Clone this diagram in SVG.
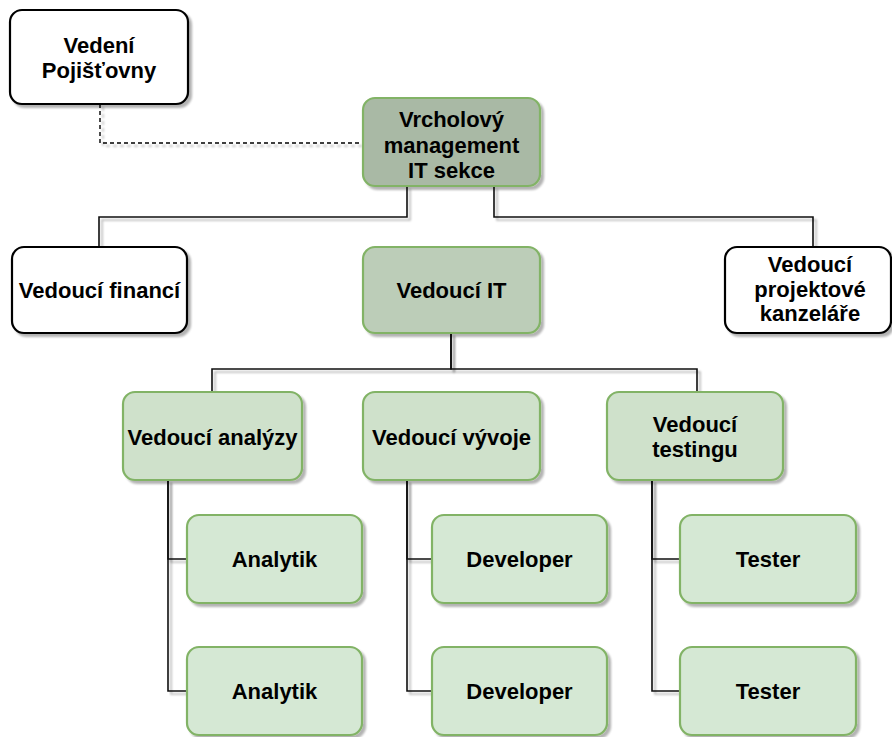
<svg xmlns="http://www.w3.org/2000/svg" width="892" height="737" viewBox="0 0 892 737">
  <defs>
    <filter id="shadow" x="-10%" y="-10%" width="130%" height="130%">
      <feGaussianBlur in="SourceAlpha" stdDeviation="1"/>
      <feOffset dx="3" dy="3" result="off"/>
      <feComponentTransfer><feFuncA type="linear" slope="0.3"/></feComponentTransfer>
      <feMerge><feMergeNode/><feMergeNode in="SourceGraphic"/></feMerge>
    </filter>
    <style>
      .box { stroke-width: 2.2; filter: url(#shadow); }
      .white { fill: #ffffff; stroke: #000000; }
      .top { fill: #a9b9a5; stroke: #82b366; }
      .lvl2 { fill: #bccdb8; stroke: #82b366; }
      .lvl3 { fill: #cfe1cb; stroke: #82b366; }
      .leaf { fill: #d5e8d4; stroke: #82b366; }
      text { font-family: "Liberation Sans", Arial, Helvetica, sans-serif; font-weight: bold; font-size: 22px; fill: #000000; text-anchor: middle; }
      .edge { fill: none; stroke: #111111; stroke-width: 1.6; filter: url(#shadow); }
      .dashed { stroke: #000000; stroke-dasharray: 4 3; stroke-width: 1.4; }
    </style>
  </defs>

  <g id="connectors">
    <path class="edge dashed" d="M100 104 V143 H363"/>
    <path class="edge" d="M407 186 V217 H99 V247"/>
    <path class="edge" d="M451 186 V247"/>
    <path class="edge" d="M494 186 V217 H813 V247"/>
    <path class="edge" d="M451 333 V369 H212 V392"/>
    <path class="edge" d="M451 333 V392"/>
    <path class="edge" d="M451 333 V369 H697 V392"/>
    <path class="edge" d="M168 480 V559 H187"/>
    <path class="edge" d="M168 480 V691 H187"/>
    <path class="edge" d="M407 480 V559 H432"/>
    <path class="edge" d="M407 480 V691 H432"/>
    <path class="edge" d="M652 480 V559 H680"/>
    <path class="edge" d="M652 480 V691 H680"/>
  </g>

  <g id="vedeni-pojistovny">
    <rect class="box white" x="10" y="10" width="178" height="94" rx="12"/>
    <text x="99" y="53">Vedení</text>
    <text x="99" y="78">Pojišťovny</text>
  </g>

  <g id="vrcholovy-management">
    <rect class="box top" x="363" y="98" width="177" height="88" rx="12"/>
    <text x="451.5" y="127">Vrcholový</text>
    <text x="451.5" y="152.5">management</text>
    <text x="451.5" y="178">IT sekce</text>
  </g>

  <g id="vedouci-financi">
    <rect class="box white" x="12" y="247" width="175" height="86" rx="12"/>
    <text x="99.5" y="298">Vedoucí financí</text>
  </g>

  <g id="vedouci-it">
    <rect class="box lvl2" x="363" y="247" width="177" height="86" rx="12"/>
    <text x="451.5" y="298">Vedoucí IT</text>
  </g>

  <g id="vedouci-projektove-kancelare">
    <rect class="box white" x="725" y="247" width="166" height="86" rx="12"/>
    <text x="810" y="272">Vedoucí</text>
    <text x="810" y="296.5">projektové</text>
    <text x="810" y="321">kanzeláře</text>
  </g>

  <g id="vedouci-analyzy">
    <rect class="box lvl3" x="123" y="392" width="179" height="88" rx="12"/>
    <text x="212.5" y="445">Vedoucí analýzy</text>
  </g>

  <g id="vedouci-vyvoje">
    <rect class="box lvl3" x="363" y="392" width="177" height="88" rx="12"/>
    <text x="451.5" y="445">Vedoucí vývoje</text>
  </g>

  <g id="vedouci-testingu">
    <rect class="box lvl3" x="607" y="392" width="176" height="88" rx="12"/>
    <text x="695" y="432">Vedoucí</text>
    <text x="695" y="457">testingu</text>
  </g>

  <g id="analytik-1">
    <rect class="box leaf" x="187" y="515" width="175" height="88" rx="12"/>
    <text x="274.5" y="566.5">Analytik</text>
  </g>
  <g id="analytik-2">
    <rect class="box leaf" x="187" y="647" width="175" height="88" rx="12"/>
    <text x="274.5" y="699">Analytik</text>
  </g>

  <g id="developer-1">
    <rect class="box leaf" x="432" y="515" width="175" height="88" rx="12"/>
    <text x="519.5" y="566.5">Developer</text>
  </g>
  <g id="developer-2">
    <rect class="box leaf" x="432" y="647" width="175" height="88" rx="12"/>
    <text x="519.5" y="699">Developer</text>
  </g>

  <g id="tester-1">
    <rect class="box leaf" x="680" y="515" width="176" height="88" rx="12"/>
    <text x="768" y="566.5">Tester</text>
  </g>
  <g id="tester-2">
    <rect class="box leaf" x="680" y="647" width="176" height="88" rx="12"/>
    <text x="768" y="699">Tester</text>
  </g>
</svg>
